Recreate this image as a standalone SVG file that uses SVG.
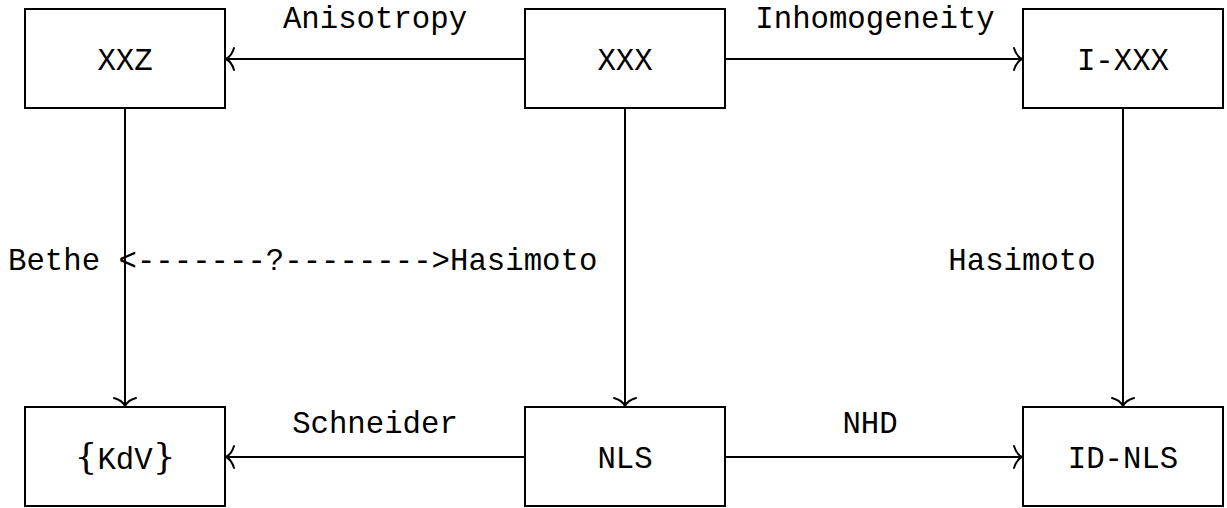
<svg xmlns="http://www.w3.org/2000/svg" width="1227" height="508" viewBox="0 0 1227 508">
<style>
.box{fill:#fff;stroke:#000;stroke-width:2}
.lbl{font-family:"Liberation Mono","DejaVu Sans Mono",monospace;font-size:30.7px;fill:#000}
.c{text-anchor:middle}
.edge{stroke:#000;stroke-width:2;fill:none;marker-end:url(#to)}
.br{font-family:"DejaVu Serif","Liberation Serif",serif;font-size:36px}
</style>
<defs>
<marker id="to" markerUnits="userSpaceOnUse" markerWidth="24" markerHeight="28" viewBox="-12 -14 24 28" refX="0" refY="0" orient="auto" overflow="visible">
<path d="M-8,-11 C-6,-4 -2,-1 0,0 C-2,1 -6,4 -8,11" fill="none" stroke="#000" stroke-width="2" stroke-linecap="round"/>
</marker>
</defs>
<g id="connectors">
<line class="edge" x1="525" y1="59" x2="226" y2="59"/>
<line class="edge" x1="725" y1="59" x2="1022" y2="59"/>
<line class="edge" x1="525" y1="457" x2="226" y2="457"/>
<line class="edge" x1="725" y1="457" x2="1022" y2="457"/>
<line class="edge" x1="125" y1="108" x2="125" y2="406"/>
<line class="edge" x1="625" y1="108" x2="625" y2="406"/>
<line class="edge" x1="1123" y1="108" x2="1123" y2="406"/>
<text class="lbl c" x="375" y="28">Anisotropy</text>
<text class="lbl c" x="875" y="28">Inhomogeneity</text>
<text class="lbl c" x="375" y="433">Schneider</text>
<text class="lbl c" x="870" y="433">NHD</text>
<text class="lbl" x="8" y="270">Bethe &lt;-------?--------&gt;Hasimoto</text>
<text class="lbl c" x="1022" y="270">Hasimoto</text>
</g>
<g id="XXZ"><rect class="box" x="25" y="9" width="200" height="99"/><text class="lbl c" x="125" y="70">XXZ</text></g>
<g id="XXX"><rect class="box" x="525" y="9" width="200" height="99"/><text class="lbl c" x="625" y="70">XXX</text></g>
<g id="I-XXX"><rect class="box" x="1023" y="9" width="200" height="99"/><text class="lbl c" x="1123" y="70">I-XXX</text></g>
<g id="KdV"><rect class="box" x="25" y="407" width="200" height="99"/><text class="lbl c" x="125" y="469"><tspan class="br">{</tspan>KdV<tspan class="br">}</tspan></text></g>
<g id="NLS"><rect class="box" x="525" y="407" width="200" height="99"/><text class="lbl c" x="625" y="468">NLS</text></g>
<g id="ID-NLS"><rect class="box" x="1023" y="407" width="200" height="99"/><text class="lbl c" x="1123" y="468">ID-NLS</text></g>
</svg>
